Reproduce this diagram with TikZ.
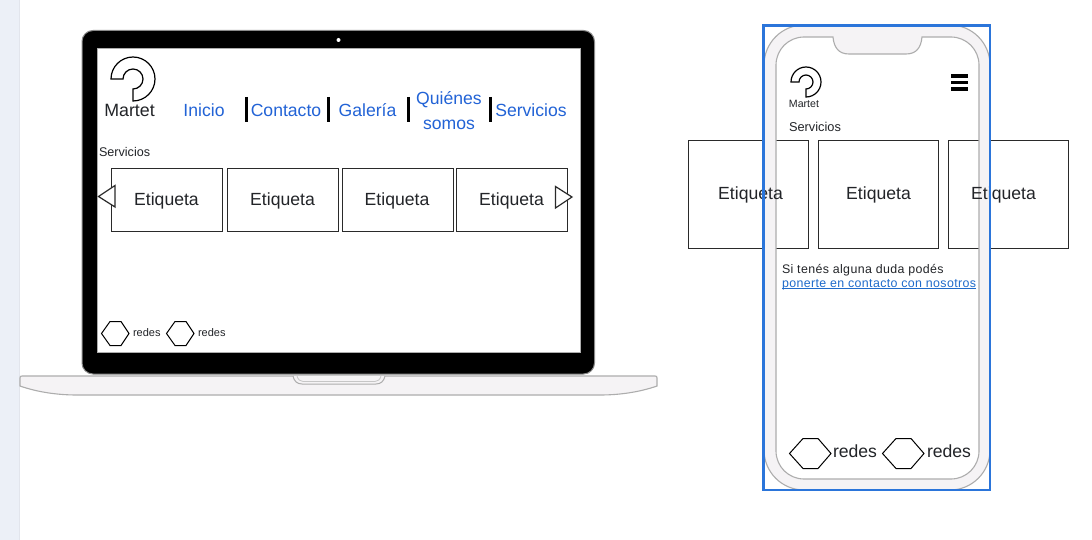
\documentclass[tikz,border=0pt]{standalone}
\usepackage{fontspec}
\setmainfont{Liberation Sans}
\newcommand{\fs}[1]{\fontsize{#1}{#1}\selectfont}
\newcommand{\ulink}[1]{\setbox0\hbox{#1}\rlap{\rule[-1.6pt]{\wd0}{.8pt}}\box0}
\definecolor{sidebar}{HTML}{ECF0F7}
\definecolor{sideedge}{HTML}{E2E5EC}
\definecolor{shell}{HTML}{F5F3F5}
\definecolor{shelledge}{HTML}{ADADAD}
\definecolor{inktext}{HTML}{222428}
\definecolor{navblue}{HTML}{2263D6}
\definecolor{linkblue}{HTML}{1F6BCB}
\definecolor{frameblue}{HTML}{2B75DA}
\definecolor{boxedge}{HTML}{2A2A2A}
\tikzset{
  txt/.style={inner sep=0pt,outer sep=0pt,text=inktext,anchor=base},
  txtl/.style={txt,anchor=base west},
  nav/.style={txt,text=navblue,font=\fs{17.6}},
  lab/.style={txt,font=\fs{17.6}},
  smalllab/.style={txtl,font=\fs{12.6}},
  cardbox/.style={draw=boxedge,line width=.9pt,fill=white},
  sepbar/.style={draw=black,line width=3pt},
  hexa/.style={draw=black,line width=1pt,fill=white,line join=miter},
  tri/.style={draw=boxedge,line width=1.2pt,fill=white},
  logo/.style={draw=black,line width=1.2pt,fill=white},
  shellline/.style={draw=shelledge,line width=1.1pt,fill=shell}
}
\begin{document}
\begin{tikzpicture}[x=1pt,y=1pt,yscale=-1]
\useasboundingbox (0,0) rectangle (1092,540);
\fill[white] (0,0) rectangle (1092,540);
\fill[sidebar] (0,0) rectangle (19,540);
\draw[sideedge,line width=1pt] (19.5,0) -- (19.5,540);
% laptop base
\path[shellline] (22,376) -- (655,376) .. controls (656.5,376) and (657,376.5) .. (657,378) -- (657,386) .. controls (640,392) and (620,395) .. (600,395) -- (77,395) .. controls (57,395) and (37,392) .. (20,386) -- (20,378) .. controls (20,376.5) and (20.5,376) .. (22,376) -- cycle;
\path[draw=shelledge,line width=1pt,fill=shell] (293,376) .. controls (294,381) and (297,384) .. (302,384) -- (376,384) .. controls (381,384) and (384,381) .. (385,376);
\path[draw=shelledge!70,line width=.8pt] (297,376) .. controls (298,379.5) and (300,381.5) .. (303,381.5) -- (375,381.5) .. controls (378,381.5) and (380,379.5) .. (381,376);
% laptop lid
\path[draw=shelledge!80!black,line width=1pt,fill=black,rounded corners=11pt] (82,374) rectangle (594.5,30.5);
\path[draw=shelledge,line width=1pt,fill=white] (97,48.5) rectangle (580,352);
\fill[white] (338.5,40) circle (2);
% desktop logo
\path[logo] (111,79) arc[start angle=180,delta angle=270,radius=22] -- (133,89) arc[start angle=90,delta angle=-270,radius=10] -- cycle;
\node[txt,font=\fs{17.8}] (dmartet) at (129.5,116.5) {Martet};
% nav
\node[nav] (inicio) at (204,116.5) {Inicio};
\node[nav] (contacto) at (286,116.5) {Contacto};
\node[nav] (galeria) at (367.5,116.5) {Galería};
\node[nav] (quienes) at (449,104.5) {Quiénes};
\node[nav] (somos) at (449,129.5) {somos};
\node[nav] (servn) at (531,116.5) {Servicios};
\draw[sepbar] (246,97) -- (246,122.5);
\draw[sepbar] (328,97) -- (328,122.5);
\draw[sepbar] (408,97) -- (408,122.5);
\draw[sepbar] (490,97) -- (490,122.5);
\node[smalllab] (dserv) at (99,156.5) {Servicios};
% desktop cards
\path[cardbox] (111,168) rectangle (222.5,231);
\path[cardbox] (227,168) rectangle (338.5,231);
\path[cardbox] (342,168) rectangle (453.5,231);
\path[cardbox] (456.5,168) rectangle (567.5,231);
\node[lab] (d1) at (166.5,205.5) {Etiqueta};
\node[lab] (d2) at (282.5,205.5) {Etiqueta};
\node[lab] (d3) at (397,205.5) {Etiqueta};
\node[lab] (d4) at (511.5,205.5) {Etiqueta};
\path[tri] (98.5,196.5) -- (115,185.5) -- (115,207) -- cycle;
\path[tri] (572,197) -- (555.5,186.5) -- (555.5,208) -- cycle;
% desktop social
\path[hexa] (101.5,333.5) -- (110,321.5) -- (121,321.5) -- (129,333.5) -- (121,345.5) -- (110,345.5) -- cycle;
\path[hexa] (166.5,333.5) -- (175,321.5) -- (186,321.5) -- (194,333.5) -- (186,345.5) -- (175,345.5) -- cycle;
\node[txtl,font=\fs{11}] (dr1) at (133,336) {redes};
\node[txtl,font=\fs{11}] (dr2) at (198,336) {redes};
% phone cards
\path[cardbox] (688,140) rectangle (808,248.5);
\path[cardbox] (818,140) rectangle (938,248.5);
\path[cardbox] (948,140) rectangle (1068,248.5);
% phone ring
\path[draw=shelledge,line width=1.1pt,fill=shell,even odd rule]
  (804,25) -- (950,25) arc[start angle=-90,delta angle=90,radius=40] -- (990,450) arc[start angle=0,delta angle=90,radius=40] -- (804,490) arc[start angle=90,delta angle=90,radius=40] -- (764,65) arc[start angle=180,delta angle=90,radius=40] -- cycle
  (804,37) -- (833,37) .. controls (834,48) and (839,54) .. (849,54) -- (906,54) .. controls (916,54) and (921,48) .. (922,37) -- (951,37) arc[start angle=-90,delta angle=90,radius=28] -- (979,451) arc[start angle=0,delta angle=90,radius=28] -- (804,479) arc[start angle=90,delta angle=90,radius=28] -- (776,65) arc[start angle=180,delta angle=90,radius=28] -- cycle;
\node[lab] (m1) at (750.5,200) {Etiqueta};
\node[lab] (m2) at (878.5,200) {Etiqueta};
\node[lab] (m3) at (1003.5,200) {Etiqueta};
% phone top
\path[logo] (791,82) arc[start angle=180,delta angle=270,radius=15] -- (806,89) arc[start angle=90,delta angle=-270,radius=7] -- cycle;
\node[txt,font=\fs{10.6}] (mmartet) at (804,107.5) {Martet};
\fill[black] (951,74.5) rectangle (968,78);
\fill[black] (951,81) rectangle (968,84.5);
\fill[black] (951,87.5) rectangle (968,91);
\node[smalllab,font=\fs{12.8}] (mserv) at (789,131.5) {Servicios};
\node[txtl,font=\fs{12.4}\addfontfeature{LetterSpace=3}] (msg) at (782,273) {Si tenés alguna duda podés};
\node[txtl,text=linkblue,font=\fs{12.4}\addfontfeature{LetterSpace=3}] (lnk) at (782,287) {\ulink{ponerte en contacto con nosotros}};
% phone social
\path[hexa] (789.5,453.5) -- (803,438.5) -- (818,438.5) -- (831,453.5) -- (818,468.5) -- (803,468.5) -- cycle;
\path[hexa] (882.5,453.5) -- (896,438.5) -- (911,438.5) -- (924,453.5) -- (911,468.5) -- (896,468.5) -- cycle;
\node[txtl,font=\fs{17.6}] (mr1) at (833,457) {redes};
\node[txtl,font=\fs{17.6}] (mr2) at (927,457) {redes};
% outline
\draw[frameblue,line width=2.2pt] (763.5,25.5) rectangle (990,490);
\end{tikzpicture}
\end{document}
